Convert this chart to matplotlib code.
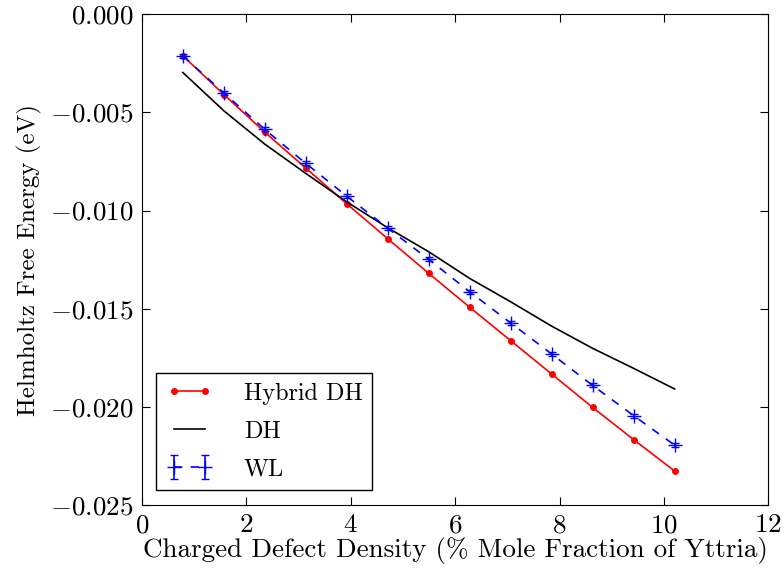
import matplotlib
matplotlib.use("Agg")
import matplotlib.pyplot as plt

# defect density (% mole fraction of yttria)
density = [0.785, 1.57, 2.355, 3.14, 3.925, 4.71, 5.495,
           6.28, 7.065, 7.85, 8.635, 9.42, 10.205]

# Helmholtz free energy (eV)
hybrid_dh = [-0.00212, -0.00409, -0.00601, -0.00784, -0.00966, -0.01144, -0.01320,
             -0.01493, -0.01663, -0.01833, -0.02003, -0.02167, -0.02327]
dh = [-0.00297, -0.00492, -0.00662, -0.00811, -0.00956, -0.01088, -0.01210,
      -0.01346, -0.01465, -0.01589, -0.01702, -0.01804, -0.01909]
wl = [-0.00212, -0.00401, -0.00587, -0.00760, -0.00927, -0.01090, -0.01249,
      -0.01414, -0.01573, -0.01731, -0.01891, -0.02045, -0.02195]
wl_err = [0.0001] * len(wl)

plt.rcParams['font.family'] = 'serif'
plt.rcParams['font.serif'] = ['cmr10', 'DejaVu Serif']
plt.rcParams['mathtext.fontset'] = 'cm'
plt.rcParams['axes.formatter.use_mathtext'] = True

fig = plt.figure(figsize=(7.84, 5.69), dpi=100)
ax = fig.add_axes([0.181, 0.1125, 0.799, 0.8625])

ax.plot(density, hybrid_dh, 'r.-', markersize=8, linewidth=1.2, label='Hybrid DH')
ax.plot(density, dh, 'k-', linewidth=1.2, label='DH')
ax.errorbar(density, wl, yerr=wl_err, fmt='b+', linestyle=(0, (5, 5)), markersize=10,
            linewidth=1.2, capsize=3, label='WL')

ax.set_xlim(0, 12)
ax.set_ylim(-0.025, 0.0)
ax.set_xticks([0, 2, 4, 6, 8, 10, 12])
ax.set_yticks([-0.025, -0.020, -0.015, -0.010, -0.005, 0.0])
ax.set_yticklabels(['$-0.025$', '$-0.020$', '$-0.015$', '$-0.010$', '$-0.005$', '$0.000$'])
ax.set_xticklabels(['$0$', '$2$', '$4$', '$6$', '$8$', '$10$', '$12$'])
ax.tick_params(direction='in', top=True, right=True, length=6, labelsize=19.5, pad=6)

ax.set_xlabel('Charged Defect Density (% Mole Fraction of Yttria)', fontsize=19.5, labelpad=0)
ax.set_ylabel('Helmholtz Free Energy (eV)', fontsize=18, labelpad=6)

leg = ax.legend(loc='lower left', numpoints=2, fancybox=False, framealpha=1,
                edgecolor='black', fontsize=17.5, handlelength=1.9, handletextpad=1.3,
                borderaxespad=0.6, labelspacing=0.65)
leg.get_frame().set_linewidth(1.0)

fig.savefig('out.png', dpi=100)
